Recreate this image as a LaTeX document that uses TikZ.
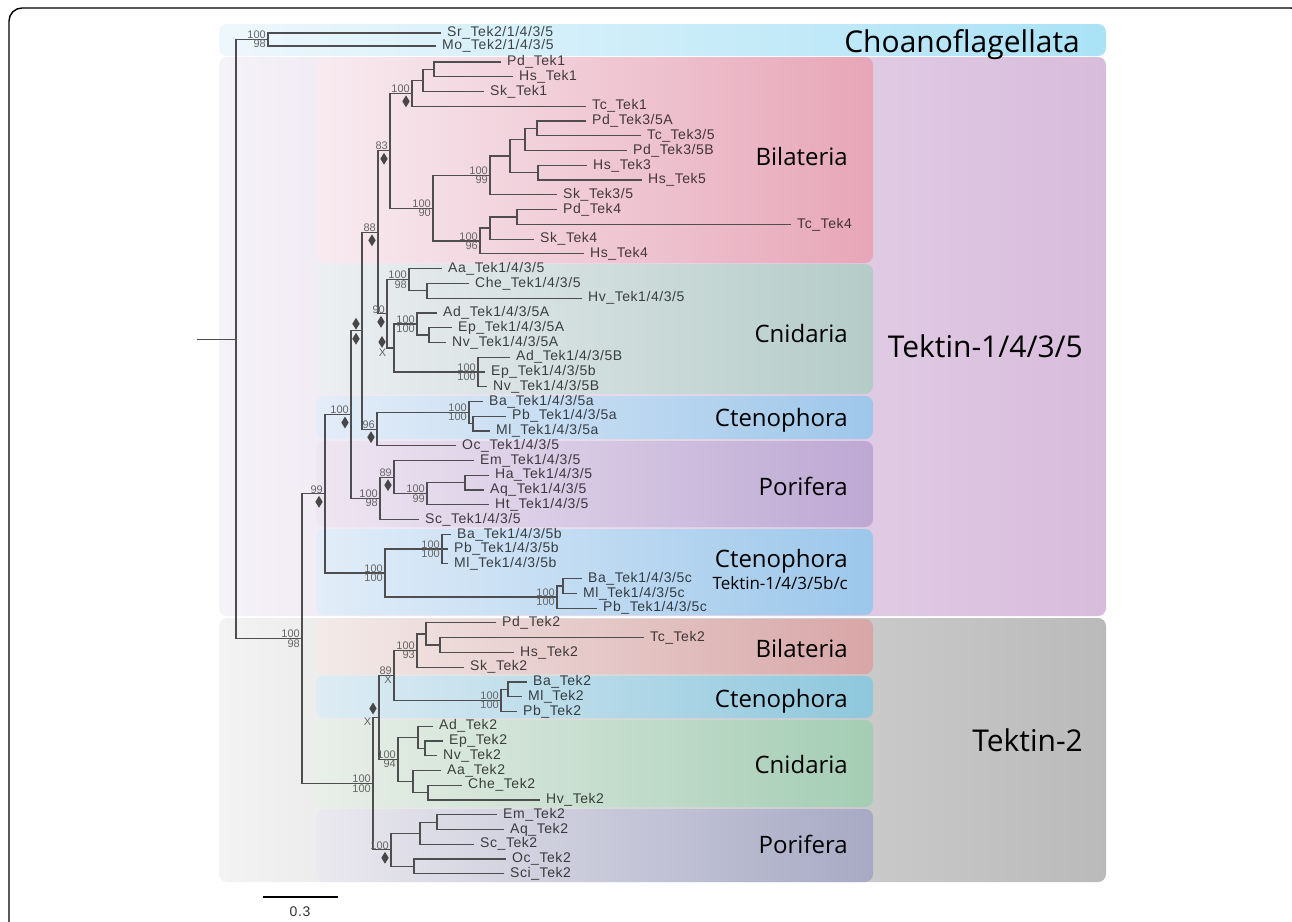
\documentclass[tikz,border=0pt]{standalone}
\usepackage{fontspec}
\setmainfont{Liberation Sans}
\newfontfamily\leaffont[LetterSpace=4]{Liberation Sans}
\newfontfamily\cladefont{Open Sans}
\usetikzlibrary{calc,shapes.geometric}
\definecolor{chl}{RGB}{238,247,252}\definecolor{chr}{RGB}{170,226,246}
\definecolor{tkAl}{RGB}{245,242,248}\definecolor{tkAr}{RGB}{216,188,220}
\definecolor{tkBl}{RGB}{242,243,242}\definecolor{tkBr}{RGB}{186,186,186}
\definecolor{bilAl}{RGB}{248,236,241}\definecolor{bilAr}{RGB}{231,166,184}
\definecolor{cniAl}{RGB}{237,239,242}\definecolor{cniAr}{RGB}{180,204,200}
\definecolor{cteAl}{RGB}{228,237,248}\definecolor{cteAr}{RGB}{158,199,234}
\definecolor{porAl}{RGB}{239,230,242}\definecolor{porAr}{RGB}{189,168,211}
\definecolor{cteBl}{RGB}{226,237,248}\definecolor{cteBr}{RGB}{156,199,235}
\definecolor{bilBl}{RGB}{243,235,233}\definecolor{bilBr}{RGB}{216,166,167}
\definecolor{cteCl}{RGB}{222,236,244}\definecolor{cteCr}{RGB}{142,199,220}
\definecolor{cniBl}{RGB}{233,239,233}\definecolor{cniBr}{RGB}{164,205,180}
\definecolor{porBl}{RGB}{234,233,239}\definecolor{porBr}{RGB}{168,170,197}
\definecolor{treec}{RGB}{78,78,80}
\tikzset{
 br/.style={draw=treec, line width=1.2pt},
 leaf/.style={anchor=west, inner xsep=6pt, inner ysep=0pt, font=\leaffont\fontsize{14}{14}\selectfont, text=black, text opacity=0.72},
 suplab/.style={font=\fontsize{11}{11}\selectfont, text=black!60, inner sep=0.5pt},
 dia/.style={diamond, fill=black!72, inner sep=0pt, minimum width=7.5pt, minimum height=12pt},
 clade/.style={font=\cladefont\fontsize{24}{28}\selectfont, anchor=base east, inner sep=0pt, text=black},
 bigclade/.style={font=\cladefont\fontsize{30}{34}\selectfont, anchor=base east, inner sep=0pt, text=black},
 box/.style={rounded corners=8pt},
}
\newcommand\lf[3]{\node[leaf] (L#1) at ({#2-6},{62+(#1-3)*14.76}) {#3};}
\newcommand\inode[4]{%
 \path let \p1=($(#3)!.5!(#4)$) in coordinate (#1) at (#2pt,\y1);
 \draw[br] (#3) -- (#1 |- #3) -- (#1 |- #4) -- (#4);}
\newcommand\bt[2]{\node[suplab,anchor=south east] (#1-t) at ([xshift=-1.5pt]#1) {#2};}
\newcommand\bb[2]{\node[suplab,anchor=north east] (#1-b) at ([xshift=-1.5pt]#1) {#2};}
\newcommand\dt[1]{\node[dia] (#1-dt) at ([xshift=-6pt,yshift=7pt]#1) {};}
\newcommand\db[1]{\node[dia] (#1-db) at ([xshift=-6pt,yshift=-8pt]#1) {};}
\begin{document}
\begin{tikzpicture}[x=1pt,y=-1pt]
\useasboundingbox (0,0) rectangle (1292,921);
\begin{scope}
\clip (0,0) rectangle (1292,921);
\draw[line width=1.4pt, rounded corners=13pt] (9,8) rectangle (1304,960);
\end{scope}
% backgrounds
\shade[box,left color=tkAl,right color=tkAr] (219,57) rectangle (1106,616);
\shade[box,left color=tkBl,right color=tkBr] (219,618) rectangle (1106,882);
\shade[box,left color=chl,right color=chr] (219,24) rectangle (1106,56);
\shade[box,left color=bilAl,right color=bilAr] (316,57) rectangle (873,263);
\shade[box,left color=cniAl,right color=cniAr] (316,264) rectangle (873,394);
\shade[box,left color=cteAl,right color=cteAr] (316,396) rectangle (873,439);
\shade[box,left color=porAl,right color=porAr] (316,441) rectangle (873,527);
\shade[box,left color=cteBl,right color=cteBr] (316,529) rectangle (873,615);
\shade[box,left color=bilBl,right color=bilBr] (316,619) rectangle (873,674);
\shade[box,left color=cteCl,right color=cteCr] (316,676) rectangle (873,718);
\shade[box,left color=cniBl,right color=cniBr] (316,720) rectangle (873,807);
\shade[box,left color=porBl,right color=porBr] (316,809) rectangle (873,882);
% clade labels
\node[bigclade] (kCho) at (1080,52) {Choanoflagellata};
\node[bigclade] (kT1) at (1083,357) {Tektin-1/4/3/5};
\node[bigclade] (kT2) at (1083,751) {Tektin-2};
\node[clade] (kBilA) at (848,165) {Bilateria};
\node[clade] (kCniA) at (848,342) {Cnidaria};
\node[clade] (kCteA) at (848,426) {Ctenophora};
\node[clade] (kPorA) at (848,495) {Porifera};
\node[clade] (kCteB) at (848,567) {Ctenophora};
\node[clade,font=\cladefont\fontsize{17}{20}\selectfont] (kCteBs) at (848,589) {Tektin-1/4/3/5b/c};
\node[clade] (kBilB) at (848,657) {Bilateria};
\node[clade] (kCteC) at (848,707) {Ctenophora};
\node[clade] (kCniB) at (848,773) {Cnidaria};
\node[clade] (kPorB) at (848,853) {Porifera};
% leaves
\node[leaf] (L1) at (441,33) {Sr\_Tek2/1/4/3/5};
\node[leaf] (L2) at (436,46) {Mo\_Tek2/1/4/3/5};
\lf{3}{507}{Pd\_Tek1}
\lf{4}{519}{Hs\_Tek1}
\lf{5}{490}{Sk\_Tek1}
\lf{6}{592}{Tc\_Tek1}
\lf{7}{592}{Pd\_Tek3/5A}
\lf{8}{647}{Tc\_Tek3/5}
\lf{9}{633}{Pd\_Tek3/5B}
\lf{10}{593}{Hs\_Tek3}
\lf{11}{648}{Hs\_Tek5}
\lf{12}{563}{Sk\_Tek3/5}
\lf{13}{563}{Pd\_Tek4}
\lf{14}{797}{Tc\_Tek4}
\lf{15}{540}{Sk\_Tek4}
\lf{16}{590}{Hs\_Tek4}
\lf{17}{448}{Aa\_Tek1/4/3/5}
\lf{18}{475}{Che\_Tek1/4/3/5}
\lf{19}{588}{Hv\_Tek1/4/3/5}
\lf{20}{443}{Ad\_Tek1/4/3/5A}
\lf{21}{458}{Ep\_Tek1/4/3/5A}
\lf{22}{452}{Nv\_Tek1/4/3/5A}
\lf{23}{516}{Ad\_Tek1/4/3/5B}
\lf{24}{491}{Ep\_Tek1/4/3/5b}
\lf{25}{493}{Nv\_Tek1/4/3/5B}
\lf{26}{489}{Ba\_Tek1/4/3/5a}
\lf{27}{512}{Pb\_Tek1/4/3/5a}
\lf{28}{496}{Ml\_Tek1/4/3/5a}
\lf{29}{462}{Oc\_Tek1/4/3/5}
\lf{30}{480}{Em\_Tek1/4/3/5}
\lf{31}{495}{Ha\_Tek1/4/3/5}
\lf{32}{490}{Aq\_Tek1/4/3/5}
\lf{33}{495}{Ht\_Tek1/4/3/5}
\lf{34}{425}{Sc\_Tek1/4/3/5}
\lf{35}{457}{Ba\_Tek1/4/3/5b}
\lf{36}{454}{Pb\_Tek1/4/3/5b}
\lf{37}{454}{Ml\_Tek1/4/3/5b}
\lf{38}{588}{Ba\_Tek1/4/3/5c}
\lf{39}{583}{Ml\_Tek1/4/3/5c}
\lf{40}{603}{Pb\_Tek1/4/3/5c}
\lf{41}{502}{Pd\_Tek2}
\lf{42}{650}{Tc\_Tek2}
\lf{43}{520}{Hs\_Tek2}
\lf{44}{470}{Sk\_Tek2}
\lf{45}{533}{Ba\_Tek2}
\lf{46}{528}{Ml\_Tek2}
\lf{47}{523}{Pb\_Tek2}
\lf{48}{439}{Ad\_Tek2}
\lf{49}{449}{Ep\_Tek2}
\lf{50}{443}{Nv\_Tek2}
\lf{51}{447}{Aa\_Tek2}
\lf{52}{468}{Che\_Tek2}
\lf{53}{546}{Hv\_Tek2}
\lf{54}{503}{Em\_Tek2}
\lf{55}{510}{Aq\_Tek2}
\lf{56}{480}{Sc\_Tek2}
\lf{57}{512}{Oc\_Tek2}
\lf{58}{510}{Sci\_Tek2}
% internal nodes
\inode{C}{268}{L1}{L2}
\inode{nb}{434}{L3}{L4}
\inode{na}{423}{nb}{L5}
\inode{nTa}{412}{na}{L6}
\inode{ng}{537}{L7}{L8}
\inode{nd}{525}{ng}{L9}
\inode{ne}{538}{L10}{L11}
\inode{nc}{510}{nd}{ne}
\inode{nf}{490}{nc}{L12}
\inode{nh}{517}{L13}{L14}
\inode{ni}{490}{nh}{L15}
\inode{nTd}{480}{ni}{L16}
\inode{nTc}{433}{nf}{nTd}
\inode{nE}{390}{nTa}{nTc}
\inode{nche}{427}{L18}{L19}
\inode{naa}{409}{L17}{nche}
\inode{nepA}{429}{L21}{L22}
\inode{nadA}{417}{L20}{nepA}
\path let \p1=(L24) in coordinate (nB) at (478pt,\y1);
\draw[br] (L23) -- (nB |- L23) -- (nB |- L25) -- (L25);
\draw[br] (nB) -- (L24);
\inode{nX}{394}{nadA}{nB}
\inode{nN}{387}{naa}{nX}
\inode{nH}{378}{nE}{nN}
\inode{npm}{473}{L27}{L28}
\inode{nCa}{469}{L26}{npm}
\inode{nS}{377}{nCa}{L29}
\inode{nx}{362}{nH}{nS}
\inode{nha}{465}{L31}{L32}
\inode{nhaq}{427}{nha}{L33}
\inode{nP}{394}{L30}{nhaq}
\inode{npor}{380}{nP}{L34}
\inode{nA}{351}{nx}{npor}
\path let \p1=(L36) in coordinate (nbB) at (442pt,\y1);
\draw[br] (L35) -- (nbB |- L35) -- (nbB |- L37) -- (L37);
\draw[br] (nbB) -- (L36);
\inode{nbcm}{563}{L38}{L39}
\inode{nbcC}{557}{nbcm}{L40}
\inode{nbc}{385}{nbB}{nbcC}
\inode{nQ}{325}{nA}{nbc}
\inode{ntchs}{440}{L42}{L43}
\inode{npd}{426}{L41}{ntchs}
\inode{nbil}{417}{npd}{L44}
\inode{nbaml}{508}{L45}{L46}
\inode{nct}{501}{nbaml}{L47}
\inode{nR}{394}{nbil}{nct}
\inode{nepnv}{425}{L49}{L50}
\inode{nadep}{418}{L48}{nepnv}
\inode{nchv}{428}{L52}{L53}
\inode{naac}{413}{L51}{nchv}
\inode{nV}{398}{nadep}{naac}
\inode{nt}{379}{nR}{nV}
\inode{nemaq}{437}{L54}{L55}
\inode{nemsc}{420}{nemaq}{L56}
\inode{nocs}{414}{L57}{L58}
\inode{npt}{391}{nemsc}{nocs}
\inode{nTw}{373}{nt}{npt}
\inode{nTop}{302}{nQ}{nTw}
\inode{R}{236}{C}{nTop}
\path let \p1=(R) in coordinate (stub) at (197pt,\y1);
\draw[br] (stub) -- (R);
% support values
\bt{C}{100}\bb{C}{98}
\bt{nTop}{100}\bb{nTop}{98}
\bt{nQ}{99}\db{nQ}
\bt{nA}{100}\db{nA}
\dt{nx}\db{nx}
\bt{nH}{88}\db{nH}
\bt{nE}{83}\db{nE}
\bt{nTa}{100}\db{nTa}
\bt{nTc}{100}\bb{nTc}{90}
\bt{nf}{100}\bb{nf}{99}
\bt{nTd}{100}\bb{nTd}{96}
\bt{naa}{100}\bb{naa}{98}
\bt{nN}{90}\db{nN}
\node[dia] (nX-dt) at ([xshift=-12pt,yshift=6pt]nX) {};
\node[suplab,anchor=north east] (nX-b) at ([xshift=-7pt]nX) {X};
\bt{nadA}{100}\bb{nadA}{100}
\bt{nB}{100}\bb{nB}{100}
\bt{nS}{96}\db{nS}
\bt{nCa}{100}\bb{nCa}{100}
\bt{npor}{100}\bb{npor}{98}
\bt{nP}{89}\db{nP}
\bt{nhaq}{100}\bb{nhaq}{99}
\bt{nbc}{100}\bb{nbc}{100}
\bt{nbB}{100}\bb{nbB}{100}
\bt{nbcC}{100}\bb{nbcC}{100}
\bt{nR}{89}\bb{nR}{X}
\node[dia] (nt-dt) at ([xshift=-6pt,yshift=9pt]nt) {};
\node[suplab,anchor=north east] (nt-b) at ([xshift=-7pt]nt) {X};
\bt{nbil}{100}\bb{nbil}{93}
\bt{nct}{100}\bb{nct}{100}
\bt{nV}{100}\bb{nV}{94}
\bt{npt}{100}\db{npt}
\bt{nTw}{100}\bb{nTw}{100}
% scale bar
\coordinate (sb1) at (263,897);
\coordinate (sb2) at (338,897);
\draw[line width=1.2pt] (sb1) -- (sb2);
\node[font=\leaffont\fontsize{14}{14}\selectfont, text=black!80] (sbl) at (300,912) {0.3};
\end{tikzpicture}
\end{document}
